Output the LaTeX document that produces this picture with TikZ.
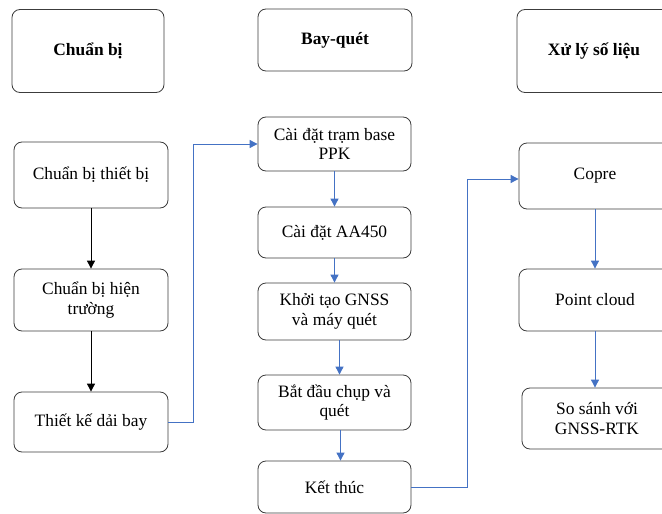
\documentclass[tikz,border=0pt]{standalone}
\usepackage{fontspec}
\setmainfont{Liberation Serif}
\usetikzlibrary{arrows.meta}
\definecolor{lineblue}{RGB}{68,114,196}
\definecolor{boxgray}{RGB}{60,60,60}
\begin{document}
\begin{tikzpicture}[x=1pt,y=-1pt,
		box/.style={draw=boxgray,line width=0.8pt,rounded corners=8pt,align=center,inner sep=0pt,
			font=\fontsize{17.4}{19.5}\selectfont},
		head/.style={box,font=\fontsize{17.4}{19.5}\selectfont\bfseries},
		blk/.style={-{Triangle[length=8pt,width=8pt]},line width=0.9pt,black},
		blu/.style={-{Triangle[length=8pt,width=8pt]},line width=0.9pt,lineblue}]
		\clip (0,0) rectangle (662,514);
		\useasboundingbox (0,0) rectangle (662,514);
		
		\node[head,minimum width=152pt,minimum height=83pt] (hd1) at (88,51) {Chuẩn bị};
		\node[head,minimum width=154pt,minimum height=62pt] (hd2) at (335,40) {Bay-quét};
		\node[head,minimum width=154pt,minimum height=83pt] (hd3) at (594,51) {Xử lý số liệu};
		
		\node[box,minimum width=154pt,minimum height=66pt] (cb1) at (91,175) {Chuẩn bị thiết bị};
		\node[box,minimum width=154pt,minimum height=62pt] (cb2) at (91,300) {Chuẩn bị hiện\\trường};
		\node[box,minimum width=154pt,minimum height=60pt] (cb3) at (91,422) {Thiết kế dải bay};
		
		\node[box,minimum width=153pt,minimum height=54pt] (bq1) at (334.5,144) {Cài đặt trạm base\\PPK};
		\node[box,minimum width=153pt,minimum height=51pt] (bq2) at (334.5,232.5) {Cài đặt AA450};
		\node[box,minimum width=153pt,minimum height=57pt] (bq3) at (334.5,311.5) {Khởi tạo GNSS\\và máy quét};
		\node[box,minimum width=153pt,minimum height=55pt] (bq4) at (334.5,402.5) {Bắt đầu chụp và\\quét};
		\node[box,minimum width=153pt,minimum height=52pt] (bq5) at (334.5,487) {Kết thúc};
		
		\node[box,minimum width=152pt,minimum height=66pt] (xl1) at (595,176) {Copre};
		\node[box,minimum width=152pt,minimum height=62pt] (xl2) at (595,300) {Point cloud};
		\node[box,minimum width=150pt,minimum height=61pt] (xl3) at (597,418.5) {So sánh với\\GNSS-RTK};
		
		\draw[blk] (cb1) -- (cb2);
		\draw[blk] (cb2) -- (cb3);
		
		\draw[blu] (bq1) -- (bq2);
		\draw[blu] (bq2) -- (bq3);
		\draw[blu] ([xshift=5pt]bq3.south) -- ([xshift=5pt]bq4.north);
		\draw[blu] ([xshift=6pt]bq4.south) -- ([xshift=6pt]bq5.north);
		
		\draw[blu] (xl1) -- (xl2);
		\draw[blu] (xl2.south) -- (xl2.south |- xl3.north);
		
		\draw[blu] (cb3.east) -- ++(25,0) |- (bq1.west);
		\draw[blu] (bq5.east) -- ++(56,0) |- ([yshift=-3pt]xl1.west);
	\end{tikzpicture}
\end{document}
